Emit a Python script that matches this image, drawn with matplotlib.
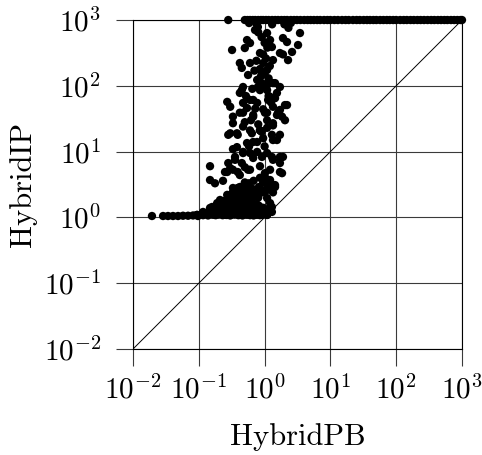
import math
import matplotlib
matplotlib.use("Agg")
import matplotlib.pyplot as plt
from matplotlib.ticker import FuncFormatter, LogLocator, NullLocator

plt.rcParams['mathtext.fontset'] = 'cm'
plt.rcParams['font.family'] = ['cmr10', 'DejaVu Serif']
plt.rcParams['axes.formatter.use_mathtext'] = True

# instances that hit the time limit in HybridIP (capped at 1000)
capped_pb = [0.28, 0.5, 0.55, 0.6, 0.66, 0.72, 0.8, 0.88, 0.95, 1.05, 1.15, 1.3, 1.45,
             1.6, 1.8, 2.0, 2.2, 2.5, 2.8, 3.1, 3.5, 4.0, 4.5, 5.0, 5.6, 6.3, 7.0, 8.0,
             9.0, 10, 11.5, 13, 15, 17, 19, 22, 25, 28, 32, 36, 40, 45, 50, 57, 64, 72,
             80, 90, 100, 115, 130, 145, 165, 185, 210, 235, 265, 300, 340, 380, 430,
             480, 540, 600, 680, 760, 850, 950, 1000]
capped_ip = [1000, 1000, 1000, 1000, 1000, 1000, 1000, 1000, 1000, 1000, 1000, 1000, 1000,
             1000, 1000, 1000, 1000, 1000, 1000, 1000, 1000, 1000, 1000, 1000, 1000, 1000, 1000, 1000,
             1000, 1000, 1000, 1000, 1000, 1000, 1000, 1000, 1000, 1000, 1000, 1000, 1000, 1000, 1000, 1000, 1000, 1000,
             1000, 1000, 1000, 1000, 1000, 1000, 1000, 1000, 1000, 1000, 1000, 1000, 1000, 1000, 1000,
             1000, 1000, 1000, 1000, 1000, 1000, 1000, 1000]

# easy instances, HybridIP close to 1
floor_pb = [0.0194, 0.0286, 0.034, 0.0405, 0.0483, 0.0575, 0.0686, 0.0817, 0.094, 0.097,
            0.116, 0.138, 0.159, 0.18, 0.2, 0.23, 0.26, 0.3, 0.35, 0.4, 0.46, 0.52, 0.6,
            0.68, 0.76, 0.85, 0.95, 1.09]
floor_ip = [1.05, 1.05, 1.05, 1.05, 1.05, 1.06, 1.06, 1.07, 1.09, 1.05,
            1.08, 1.07, 1.1, 1.08, 1.1, 1.08, 1.09, 1.07, 1.1, 1.08, 1.07, 1.1, 1.08,
            1.07, 1.1, 1.08, 1.1, 1.09]

# main cloud
cloud_pb = [0.12, 0.14, 0.16, 0.17, 0.19, 0.2, 0.21, 0.22, 0.23, 0.24, 0.25, 0.26, 0.27,
            0.28, 0.29, 0.3, 0.31, 0.32, 0.33, 0.34, 0.35, 0.36, 0.37, 0.38, 0.39, 0.4,
            0.42, 0.43, 0.44, 0.45, 0.46, 0.48, 0.5, 0.52, 0.53, 0.55, 0.57, 0.6, 0.62,
            0.65, 0.67, 0.7, 0.73, 0.76, 0.8, 0.82, 0.86, 0.9, 0.95, 1.0,
            1.13, 1.29, 0.95, 1.21, 1.44, 1.09, 1.21, 1.34, 0.95, 1.44, 1.09, 1.21, 1.01,
            0.85, 1.84, 1.71, 1.34, 0.91, 0.77, 0.56, 0.39, 0.27, 0.30, 0.45, 0.355, 0.47,
            0.33, 0.148, 0.148, 0.176, 0.233, 0.33, 0.39, 0.27, 0.21, 0.19, 0.148, 0.116,
            0.094, 0.233, 0.30, 0.42, 0.54, 0.60, 0.77, 0.91, 1.21, 0.47, 0.33, 0.27, 1.09,
            0.33, 0.47, 0.67, 1.09, 1.54, 2.04, 0.33, 0.47, 0.64, 0.28, 0.39, 0.85, 1.09,
            1.34, 1.29, 1.71, 0.77, 1.54, 0.38, 0.54, 0.47, 0.355, 0.60, 0.67, 1.09, 1.29,
            1.90, 1.71, 0.28, 0.25, 0.33, 0.50, 0.60, 0.42, 1.01, 1.21, 1.71, 0.95, 1.21,
            0.91, 1.29, 1.09, 1.29, 0.33, 0.47, 0.54, 0.38, 0.30, 0.25, 0.19, 0.42, 0.60,
            0.67, 0.159,
            0.32, 0.54, 0.60, 0.50, 0.715, 0.79, 1.09, 1.21, 1.29, 1.90, 2.19, 3.45, 3.22,
            1.71, 2.61, 2.27, 0.42, 0.45, 0.60, 0.56, 0.85, 0.95, 1.09, 1.34, 0.91, 0.77,
            0.45, 0.27, 0.30, 0.47, 0.54, 0.42, 0.67, 0.79, 1.09, 1.21, 1.54, 1.34, 1.71,
            2.04, 1.01, 1.84, 1.13, 1.44,
            0.8, 0.9, 1.0, 1.1, 0.95, 1.05, 1.2, 0.85, 1.0, 1.15, 0.9, 1.0,
            0.42, 0.47, 0.60, 0.77, 0.67, 0.85, 1.09, 1.34, 1.71, 1.13, 1.44, 2.19, 1.6,
            1.09, 0.30, 0.38, 0.60, 0.85, 1.34, 0.67, 0.95, 1.34,
            2.3, 2.0, 1.9, 2.5, 1.3, 0.75, 0.58,
            0.5, 0.56, 0.62, 0.7, 0.78, 0.88, 0.62, 0.7, 0.52, 0.58, 0.66, 0.74, 0.82,
            0.36, 0.41, 0.48, 0.55, 0.63, 0.72, 0.4, 0.5, 0.58, 0.68,
            0.52, 0.72, 0.88, 1.15, 0.62, 0.8, 1.0, 0.58, 0.9, 1.25, 0.7, 0.5, 1.4, 0.95,
            0.75, 1.1, 0.65, 0.85]
cloud_ip = [1.15, 1.2, 1.3, 1.1, 1.25, 1.45, 1.15, 1.6, 1.35, 1.1, 1.8, 1.5, 1.2,
            2.0, 1.65, 1.3, 1.1, 2.3, 1.9, 1.5, 1.2, 2.6, 2.1, 1.7, 1.35, 1.1,
            2.9, 2.3, 1.85, 1.5, 1.2, 2.6, 2.0, 1.6, 1.3, 1.1, 2.4, 1.8, 1.4,
            1.15, 2.2, 1.6, 1.3, 1.1, 2.0, 1.5, 1.25, 1.1, 1.4, 1.15,
            1.34, 1.21, 1.17, 3.3, 3.1, 2.6, 1.65, 2.4, 2.4, 2.9, 3.1, 3.45, 4.1,
            4.0, 4.7, 8.3, 7.5, 8.3, 9.9, 5.3, 4.9, 4.9, 5.6, 6.7, 7.5, 9.9,
            10.9, 6.0, 3.7, 3.3, 3.6, 2.4, 2.8, 2.2, 1.84, 1.54, 1.39, 1.21,
            1.09, 1.39, 1.65, 1.71, 1.97, 1.39, 1.29, 1.17, 1.39, 1.21, 1.17, 1.09, 1.09,
            34, 39, 36, 39, 36, 30, 27, 24, 19, 18, 18, 21, 23,
            25, 18, 18, 14, 15, 11.7, 13.5, 9.5, 8.3, 9.5, 8.0, 9.5, 8.3,
            8.3, 6.7, 6.7, 4.9, 5.3, 5.8, 5.3, 4.4, 4.7, 5.3, 4.9, 3.45, 3.7,
            2.6, 2.8, 1.97, 1.44, 2.8, 2.9, 2.35, 2.04, 2.04, 1.71, 1.65, 1.65, 1.84,
            1.44, 1.44,
            350, 496, 447, 375, 705, 783, 634, 496, 389, 532, 463, 634, 417,
            315, 327, 246, 222, 187, 222, 146, 315, 222, 174, 246, 157, 123,
            86, 57, 48, 55, 46, 39, 61, 96, 86, 68, 78, 48, 43,
            51, 39, 34, 114, 110,
            650, 550, 450, 380, 300, 260, 200, 180, 150, 130, 110, 100,
            78, 96, 61, 55, 34, 86, 103, 110, 96, 61, 65, 51, 39,
            30, 19, 19, 21, 21, 27, 14, 16, 15,
            760, 860, 300, 900, 860, 880, 900,
            1.25, 1.45, 1.7, 1.3, 1.55, 1.35, 2.6, 2.1, 3.0, 3.3, 2.7, 2.4, 2.9,
            1.55, 1.3, 1.5, 1.75, 1.25, 1.45, 2.3, 3.4, 2.7, 3.6,
            70, 45, 140, 70, 30, 26, 12, 12, 20, 56, 170, 28, 65, 44,
            240, 420, 90, 6.0]

fig = plt.figure(figsize=(4.82, 4.55), dpi=100)
ax = fig.add_axes([0.276, 0.233, 0.6825, 0.723])
ax.set_xscale('log')
ax.set_yscale('log')
ax.set_xlim(1e-2, 1e3)
ax.set_ylim(1e-2, 1e3)

ax.plot([1e-2, 1e3], [1e-2, 1e3], color='black', lw=0.7, zorder=2)
for px, py in ((capped_pb, capped_ip), (floor_pb, floor_ip), (cloud_pb, cloud_ip)):
    ax.scatter(px, py, s=36, color='black', edgecolors='none', zorder=3, clip_on=False)

ax.xaxis.set_major_locator(LogLocator(base=10, numticks=10))
ax.yaxis.set_major_locator(LogLocator(base=10, numticks=10))
ax.xaxis.set_minor_locator(NullLocator())
ax.yaxis.set_minor_locator(NullLocator())
fmt = FuncFormatter(lambda v, p: r'$10^{%d}$' % round(math.log10(v)))
ax.xaxis.set_major_formatter(fmt)
ax.yaxis.set_major_formatter(fmt)

ax.grid(True, color='#3a3a3a', lw=0.8, zorder=1)
ax.set_axisbelow(True)
ax.tick_params(axis='both', direction='out', length=12, width=0.8, color='#3a3a3a',
               labelsize=21)
ax.tick_params(axis='y', pad=11)
ax.tick_params(axis='x', pad=7)
for s in ax.spines.values():
    s.set_linewidth(0.8)
    s.set_color('black')

ax.set_xlabel('HybridPB', fontsize=22, labelpad=13)
ax.set_ylabel('HybridIP', fontsize=22, labelpad=5)

fig.savefig('out.png', dpi=100)
